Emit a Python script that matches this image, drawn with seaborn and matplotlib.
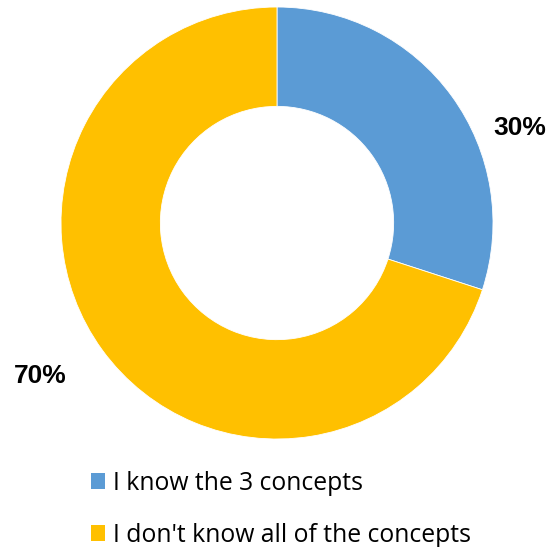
import matplotlib
matplotlib.use("Agg")
import matplotlib.pyplot as plt
import seaborn as sns
from matplotlib.patches import Patch

categories = ["I know the 3 concepts", "I don't know all of the concepts"]
values = [30, 70]
pct_labels = ["30%", "70%"]
colors = ["#5B9BD5", "#FFC000"]

sns.set_theme(style="white")
plt.rcParams['font.family'] = ['Open Sans', 'DejaVu Sans']
plt.rcParams['text.color'] = 'black'

fig = plt.figure(figsize=(5.56, 5.47), dpi=100)
ax = fig.add_axes([0.1097, 0.1974, 0.777, 0.7898])
ax.pie(values, colors=colors, startangle=90, counterclock=False,
       wedgeprops=dict(width=0.46, edgecolor="white", linewidth=0.6))
ax.set_xlim(-1, 1)
ax.set_ylim(-1, 1)
ax.set_aspect("equal")
ax.axis("off")

label_pos = [(1.125, 0.44), (-1.097, -0.708)]
for (x, y), t in zip(label_pos, pct_labels):
    ax.text(x, y, t, ha="center", va="center", fontsize=19, fontweight="bold",
            color="black", family=["Liberation Sans", "DejaVu Sans"], clip_on=False)

handles = [Patch(facecolor=c, edgecolor="none") for c in colors]
leg = fig.legend(handles, categories, loc="upper left", bbox_to_anchor=(0.163, 0.139),
                 frameon=False, fontsize=17.8, handlelength=0.6, handleheight=0.6,
                 handletextpad=0.3, labelspacing=1.08, borderpad=0, borderaxespad=0)
for t in leg.get_texts():
    t.set_color("black")

fig.savefig("out.png", dpi=100, facecolor="white")
